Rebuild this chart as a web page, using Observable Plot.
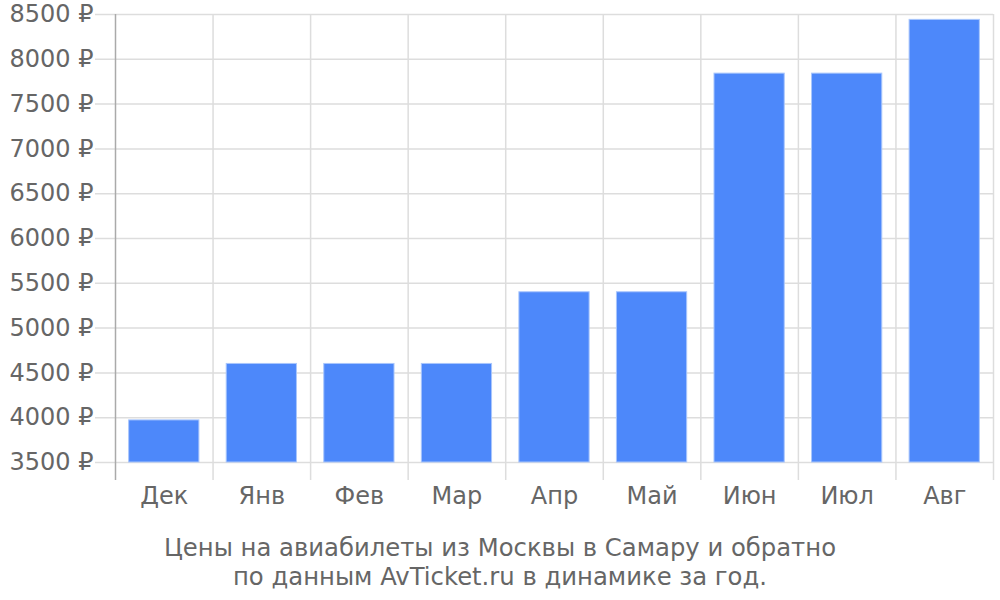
<!DOCTYPE html>
<html>
<head>
<meta charset="utf-8">
<script src="https://cdn.jsdelivr.net/npm/d3@7"></script>
<script src="https://cdn.jsdelivr.net/npm/@observablehq/plot@0.6"></script>
<style>
  body { margin: 0; background: #fff; font-family: "DejaVu Sans", sans-serif; }
  #cap { width: 1000px; text-align: center; color: #666; font-size: 24.3px; line-height: 28.5px; margin-top: 14px; }
</style>
</head>
<body>
<div id="chart"></div>
<div id="cap">Цены на авиабилеты из Москвы в Самару и обратно<br>по данным AvTicket.ru в динамике за год.</div>
<script>
const months = ["Дек", "Янв", "Фев", "Мар", "Апр", "Май", "Июн", "Июл", "Авг"];
const prices = [3970, 4600, 4600, 4600, 5400, 5400, 7840, 7840, 8440];
const yTicks = [3500, 4000, 4500, 5000, 5500, 6000, 6500, 7000, 7500, 8000, 8500];

const data = months.map((m, i) => ({month: m, price: prices[i]}));
const W = 1000, mL = 115, mR = 7;
const step = (W - mL - mR) / months.length;

const chart = Plot.plot({
  width: W,
  height: 520,
  marginLeft: mL,
  marginRight: mR,
  marginTop: 14,
  marginBottom: 58,
  style: {fontFamily: "DejaVu Sans, sans-serif", fontSize: "24px", color: "#666", background: "#fff"},
  x: {domain: months, paddingInner: 0.28, paddingOuter: 0.14, round: false, label: null},
  y: {domain: [3500, 8500], label: null},
  marks: [
    Plot.ruleY(yTicks, {stroke: "#ddd", strokeWidth: 1.5, insetLeft: -20}),
    Plot.ruleX(months.slice(1), {x: d => d, dx: -step / 2, stroke: "#ddd", strokeWidth: 1.5, insetBottom: -18}),
    Plot.ruleX(months.slice(-1), {x: d => d, dx: step / 2, stroke: "#ddd", strokeWidth: 1.5, insetBottom: -18}),
    Plot.ruleX(months.slice(0, 1), {x: d => d, dx: -step / 2, stroke: "#aaa", strokeWidth: 1.5, insetBottom: -18}),
    Plot.rectY(data, {x: "month", y1: 3500, y2: "price", fill: "#4d88fa", stroke: "#a9c6fc", strokeWidth: 1}),
    Plot.axisY(yTicks, {tickSize: 0, tickPadding: 22, tickFormat: d => `${d} ₽`, fontSize: 24, fill: "#666"}),
    Plot.axisX({tickSize: 0, tickPadding: 24, fontSize: 24, fill: "#666"})
  ]
});
document.getElementById("chart").appendChild(chart);
</script>
</body>
</html>
